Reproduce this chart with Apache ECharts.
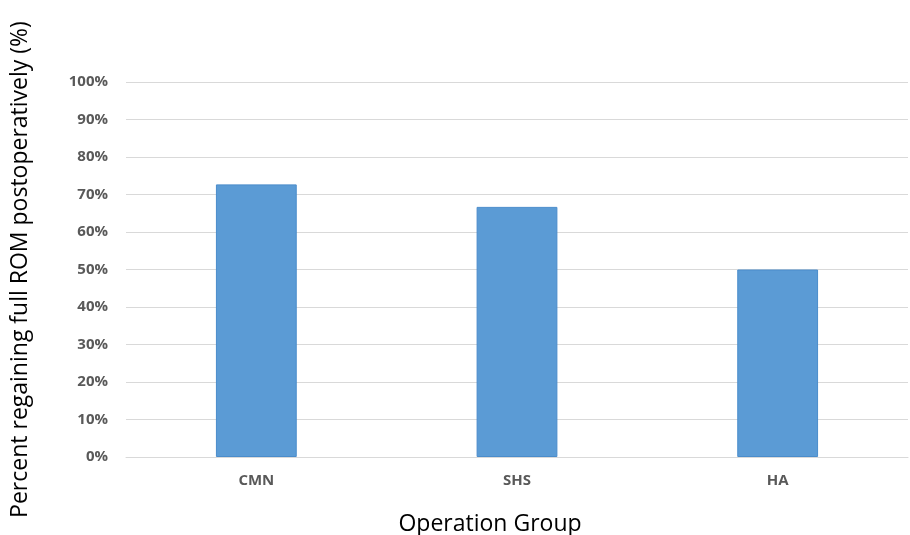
<!DOCTYPE html>
<html>
<head>
<meta charset="utf-8">
<script src="https://cdn.jsdelivr.net/npm/echarts@6/dist/echarts.min.js"></script>
<style>
  html, body { margin: 0; padding: 0; background: #ffffff; }
  #chart { width: 910px; height: 535px; }
</style>
</head>
<body>
<div id="chart"></div>
<script>
// Operation groups and share of patients regaining full ROM (%)
const categories = ['CMN', 'SHS', 'HA'];
const fullRomPercent = [72.7, 66.7, 50.0];
const yTickMax = 100;
const yTickStep = 10;

const chart = echarts.init(document.getElementById('chart'));
chart.setOption({
  backgroundColor: '#ffffff',
  animation: false,
  grid: { left: 126, right: 2, top: 82, bottom: 78, containLabel: false, outerBoundsMode: 'none' },
  xAxis: {
    type: 'category',
    data: categories,
    name: 'Operation Group',
    nameLocation: 'middle',
    nameGap: 56,
    nameTextStyle: { fontFamily: 'Open Sans', fontSize: 23, color: '#000000', padding: [0, 54, 0, 0] },
    axisLine: { show: true, lineStyle: { color: '#d9d9d9', width: 1 } },
    axisTick: { show: false },
    axisLabel: {
      fontFamily: 'Open Sans', fontWeight: 'bold', fontSize: 15, color: '#595959', margin: 16
    }
  },
  yAxis: {
    type: 'value',
    min: 0,
    max: yTickMax,
    interval: yTickStep,
    name: 'Percent regaining full ROM postoperatively (%)',
    nameLocation: 'middle',
    nameGap: 94,
    nameTextStyle: { fontFamily: 'Open Sans', fontSize: 23, color: '#000000' },
    axisLine: { show: false },
    axisTick: { show: false },
    axisLabel: {
      formatter: '{value}%',
      fontFamily: 'Open Sans', fontWeight: 'bold', fontSize: 15, color: '#595959', margin: 18
    },
    splitLine: { lineStyle: { color: '#d9d9d9', width: 1 } }
  },
  series: [{
    type: 'bar',
    data: fullRomPercent,
    barWidth: '31%',
    itemStyle: { color: '#5b9bd5', borderColor: '#4a8ccb', borderWidth: 1 }
  }]
});
</script>
</body>
</html>
